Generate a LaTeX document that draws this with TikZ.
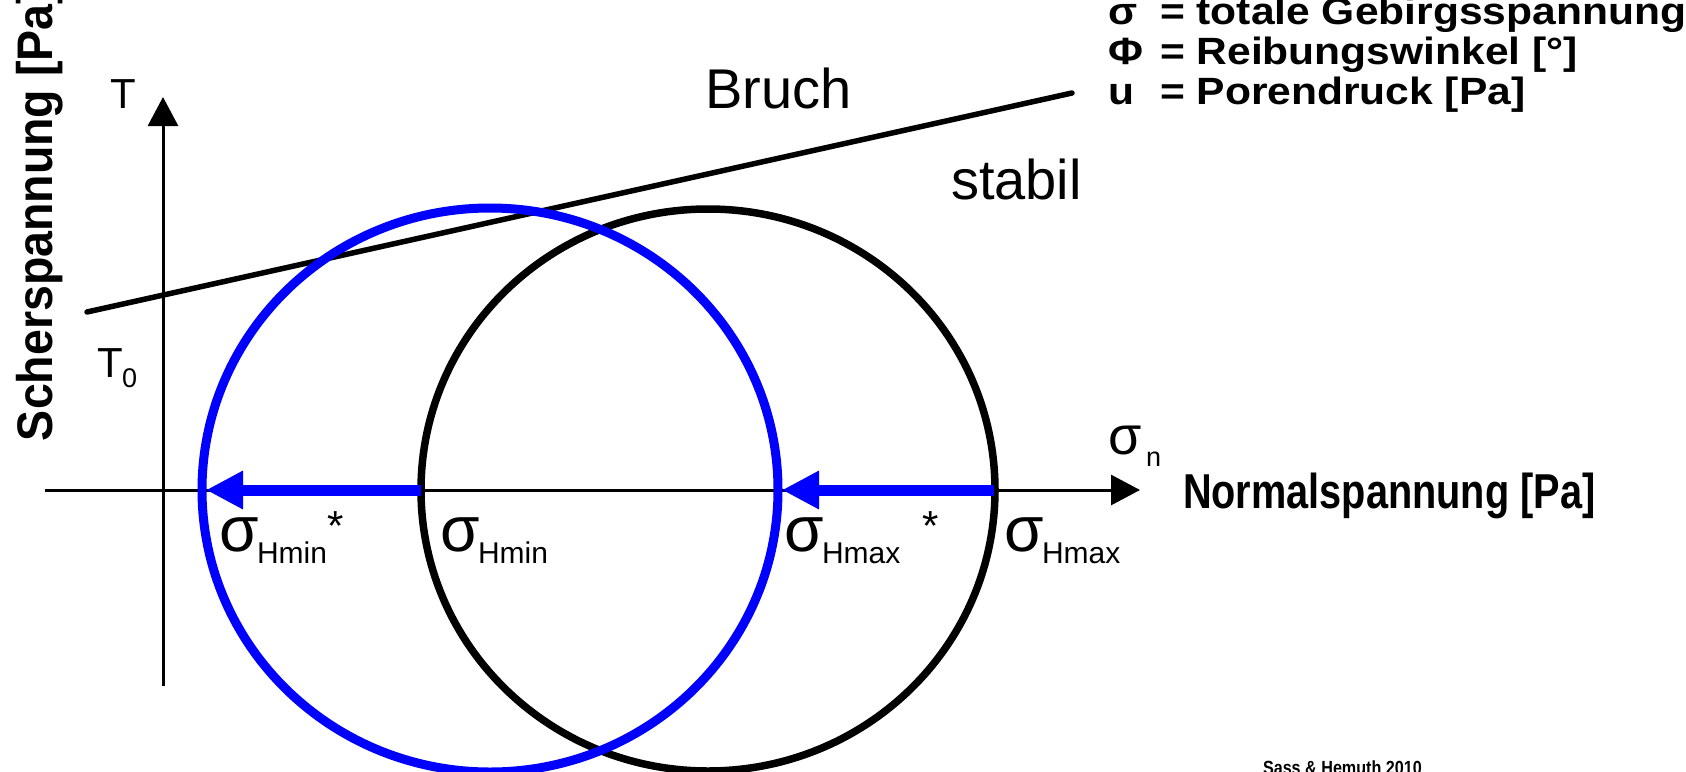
\documentclass[tikz,border=0pt]{standalone}
\usepackage{fontspec}
\setmainfont{Liberation Sans}
\usepackage{graphicx}
\usetikzlibrary{arrows.meta}
\newcommand{\fs}[1]{\fontsize{#1}{#1}\selectfont}
\newcommand{\leg}[1]{\fs{38}\bfseries\scalebox{1.12}[1]{#1}}
\tikzset{
  lbl/.style={inner sep=0pt, outer sep=0pt, anchor=base west},
  axisline/.style={line width=3pt, -{Triangle[length=29pt,width=30pt]}},
  shiftarrow/.style={blue, line width=11pt, -{Triangle[length=37pt,width=36pt]}},
  circblue/.style={blue, line width=9pt},
  circblack/.style={black, line width=7.5pt},
  bruchline/.style={line width=5.5pt, line cap=round},
}
\begin{document}
\begin{tikzpicture}[x=1pt,y=-1pt]
\useasboundingbox (0,0) rectangle (1686,771);
\fill[white] (0,0) rectangle (1686,771);
\clip (0,0) rectangle (1686,771);
% axes
\coordinate (ybot) at (163,686);
\coordinate (ytop) at (163,97);
\coordinate (xleft) at (45,490);
\coordinate (xright) at (1140,490);
\draw[axisline] (ybot) -- (ytop);
\draw[axisline] (xleft) -- (xright);
% failure line
\coordinate (bl) at (87,312);
\coordinate (br) at (1072,93);
\draw[bruchline] (bl) -- (br);
% circles
\coordinate (cb) at (490,490);
\coordinate (ck) at (708,490);
\draw[circblack] (ck) ellipse[x radius=287, y radius=281];
\draw[circblue] (cb) ellipse[x radius=288, y radius=282];
% shift arrows
\coordinate (kmin) at (421,490);
\coordinate (bmin) at (206,490);
\coordinate (kmax) at (994,490);
\coordinate (bmax) at (782,490);
\draw[shiftarrow] (kmin) -- (bmin);
\draw[shiftarrow] (kmax) -- (bmax);
% axis labels
\node[lbl] (tau) at (110,108) {\fs{42}T};
\node[lbl] (tau0) at (97,377) {\fs{42}T};
\node[lbl] (tau0s) at (122,387) {\fs{27}0};
\node[lbl] (bruch) at (705,108) {\fs{56}Bruch};
\node[lbl] (stabil) at (951,199) {\fs{56}stabil};
\node[lbl] (sn) at (1108,454) {\fs{54}σ};
\node[lbl] (sns) at (1146,466) {\fs{27}n};
% sigma labels
\node[lbl] (s1) at (219,551) {\fs{64}σ};
\node[lbl] (s1s) at (257,563) {\fs{30}Hmin};
\node[lbl] (s1a) at (327,540) {\fs{42}*};
\node[lbl] (s2) at (440,551) {\fs{64}σ};
\node[lbl] (s2s) at (478,563) {\fs{30}Hmin};
\node[lbl] (s3) at (784,551) {\fs{64}σ};
\node[lbl] (s3s) at (822,563) {\fs{30}Hmax};
\node[lbl] (s3a) at (922,540) {\fs{42}*};
\node[lbl] (s4) at (1004,551) {\fs{64}σ};
\node[lbl] (s4s) at (1042,563) {\fs{30}Hmax};
% bold titles
\node[lbl] (xt) at (1183,508) {\fs{49}\bfseries\scalebox{0.81}[1]{Normalspannung [Pa]}};
\node[lbl, rotate=90] (yt) at (52,441) {\fs{50}\bfseries\scalebox{0.93}[1]{Scherspannung [Pa]}};
% legend
\node[lbl] (l1) at (1108,24) {\leg{σ}};
\node[lbl] (l1t) at (1160,24) {\leg{= totale Gebirgsspannung}};
\node[lbl] (l2) at (1108,64) {\leg{Φ}};
\node[lbl] (l2t) at (1160,64) {\leg{= Reibungswinkel [°]}};
\node[lbl] (l3) at (1108,104) {\leg{u}};
\node[lbl] (l3t) at (1160,104) {\leg{= Porendruck [Pa]}};
\node[lbl] (src) at (1263,774) {\fs{19}\bfseries\scalebox{0.85}[1]{Sass \& Hemuth 2010}};
\end{tikzpicture}
\end{document}
